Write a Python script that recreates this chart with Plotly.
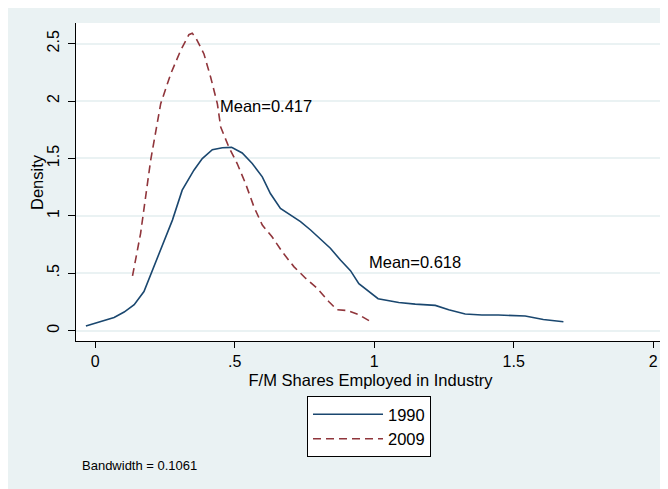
import plotly.graph_objects as go

# ---- data ----
x_1990 = [-0.033, 0.014, 0.068, 0.104, 0.140, 0.175, 0.211, 0.247, 0.277, 0.312,
          0.354, 0.384, 0.420, 0.456, 0.489, 0.527, 0.563, 0.599, 0.628, 0.664,
          0.700, 0.736, 0.772, 0.807, 0.843, 0.879, 0.915, 0.945, 0.980, 1.014,
          1.088, 1.147, 1.219, 1.267, 1.326, 1.386, 1.445, 1.541, 1.606, 1.678]
y_1990 = [0.041, 0.076, 0.115, 0.162, 0.226, 0.341, 0.558, 0.790, 0.963, 1.224,
          1.398, 1.499, 1.576, 1.593, 1.597, 1.548, 1.456, 1.340, 1.195, 1.065,
          1.007, 0.950, 0.877, 0.800, 0.718, 0.615, 0.523, 0.410, 0.341, 0.278,
          0.246, 0.231, 0.220, 0.182, 0.145, 0.136, 0.136, 0.128, 0.098, 0.078]

x_2009 = [0.134, 0.163, 0.199, 0.235, 0.271, 0.306, 0.336, 0.348, 0.360, 0.390,
          0.414, 0.438, 0.450, 0.479, 0.509, 0.539, 0.569, 0.599, 0.634, 0.670,
          0.712, 0.754, 0.795, 0.837, 0.867, 0.903, 0.945, 0.986]
y_2009 = [0.477, 0.848, 1.484, 1.977, 2.237, 2.439, 2.578, 2.590, 2.555, 2.410,
          2.208, 1.977, 1.774, 1.600, 1.456, 1.282, 1.079, 0.920, 0.818, 0.688,
          0.558, 0.457, 0.371, 0.254, 0.182, 0.176, 0.139, 0.081]

x_ticks = [0, 0.5, 1, 1.5, 2]
x_ticktext = ["0", ".5", "1", "1.5", "2"]
y_ticks = [0, 0.5, 1, 1.5, 2, 2.5]
y_ticktext = ["0", ".5", "1", "1.5", "2", "2.5"]

mean_labels = ["Mean=0.417", "Mean=0.618"]
mean_x = [0.441, 0.973]
mean_y = [1.957, 0.598]

FONT = "Liberation Sans, Arial, Helvetica, sans-serif"
NAVY = "#1A476F"
MAROON = "#90353B"
BG = "#EAF2F3"

fig = go.Figure()
fig.add_trace(go.Scatter(x=x_1990, y=y_1990, mode="lines", name="1990",
                         line=dict(color=NAVY, width=1.6)))
fig.add_trace(go.Scatter(x=x_2009, y=y_2009, mode="lines", name="2009",
                         line=dict(color=MAROON, width=1.6, dash="8px,5px")))

for t, xx, yy in zip(mean_labels, mean_x, mean_y):
    fig.add_annotation(x=xx, y=yy, text=t, showarrow=False, xanchor="left",
                       yanchor="middle", font=dict(family=FONT, size=16.5, color="black"))

fig.add_annotation(x=0.0068, y=-0.393, xref="paper", yref="paper",
                   text="Bandwidth = 0.1061", showarrow=False, xanchor="left",
                   yanchor="middle", font=dict(family=FONT, size=13, color="black"))

# y-axis title
fig.add_annotation(x=-0.0662, y=0.5, xref="paper", yref="paper",
                   text="Density", showarrow=False, textangle=-90,
                   xanchor="center", yanchor="middle",
                   font=dict(family=FONT, size=16.5, color="black"))

fig.update_layout(
    width=660, height=481,
    margin=dict(l=68, r=3, t=15, b=148),
    paper_bgcolor=BG, plot_bgcolor="white",
    font=dict(family=FONT, size=16, color="black"),
    showlegend=True,
    legend=dict(x=0.3922, y=-0.173, xanchor="left", yanchor="top",
                bgcolor="white", bordercolor="black", borderwidth=1,
                font=dict(family=FONT, size=16.5, color="black"),
                itemwidth=70, tracegroupgap=0),
    xaxis=dict(range=[-0.0685, 2.042], tickvals=x_ticks, ticktext=x_ticktext,
               showgrid=False, zeroline=False, showline=True, linecolor="black",
               linewidth=1, ticks="outside", ticklen=6, tickcolor="black",
               tickfont=dict(family=FONT, size=16),
               title=dict(text="F/M Shares Employed in Industry",
                          font=dict(family=FONT, size=16.5), standoff=5)),
    yaxis=dict(range=[-0.09, 2.68], tickvals=y_ticks, ticktext=y_ticktext,
               showgrid=True, gridcolor=BG, gridwidth=1.5, zeroline=False,
               showline=True, linecolor="black", linewidth=1, ticks="outside",
               ticklen=7, tickcolor="black", tickangle=-90, ticklabelstandoff=3,
               tickfont=dict(family=FONT, size=16)),
)

fig.write_html("out.html")
